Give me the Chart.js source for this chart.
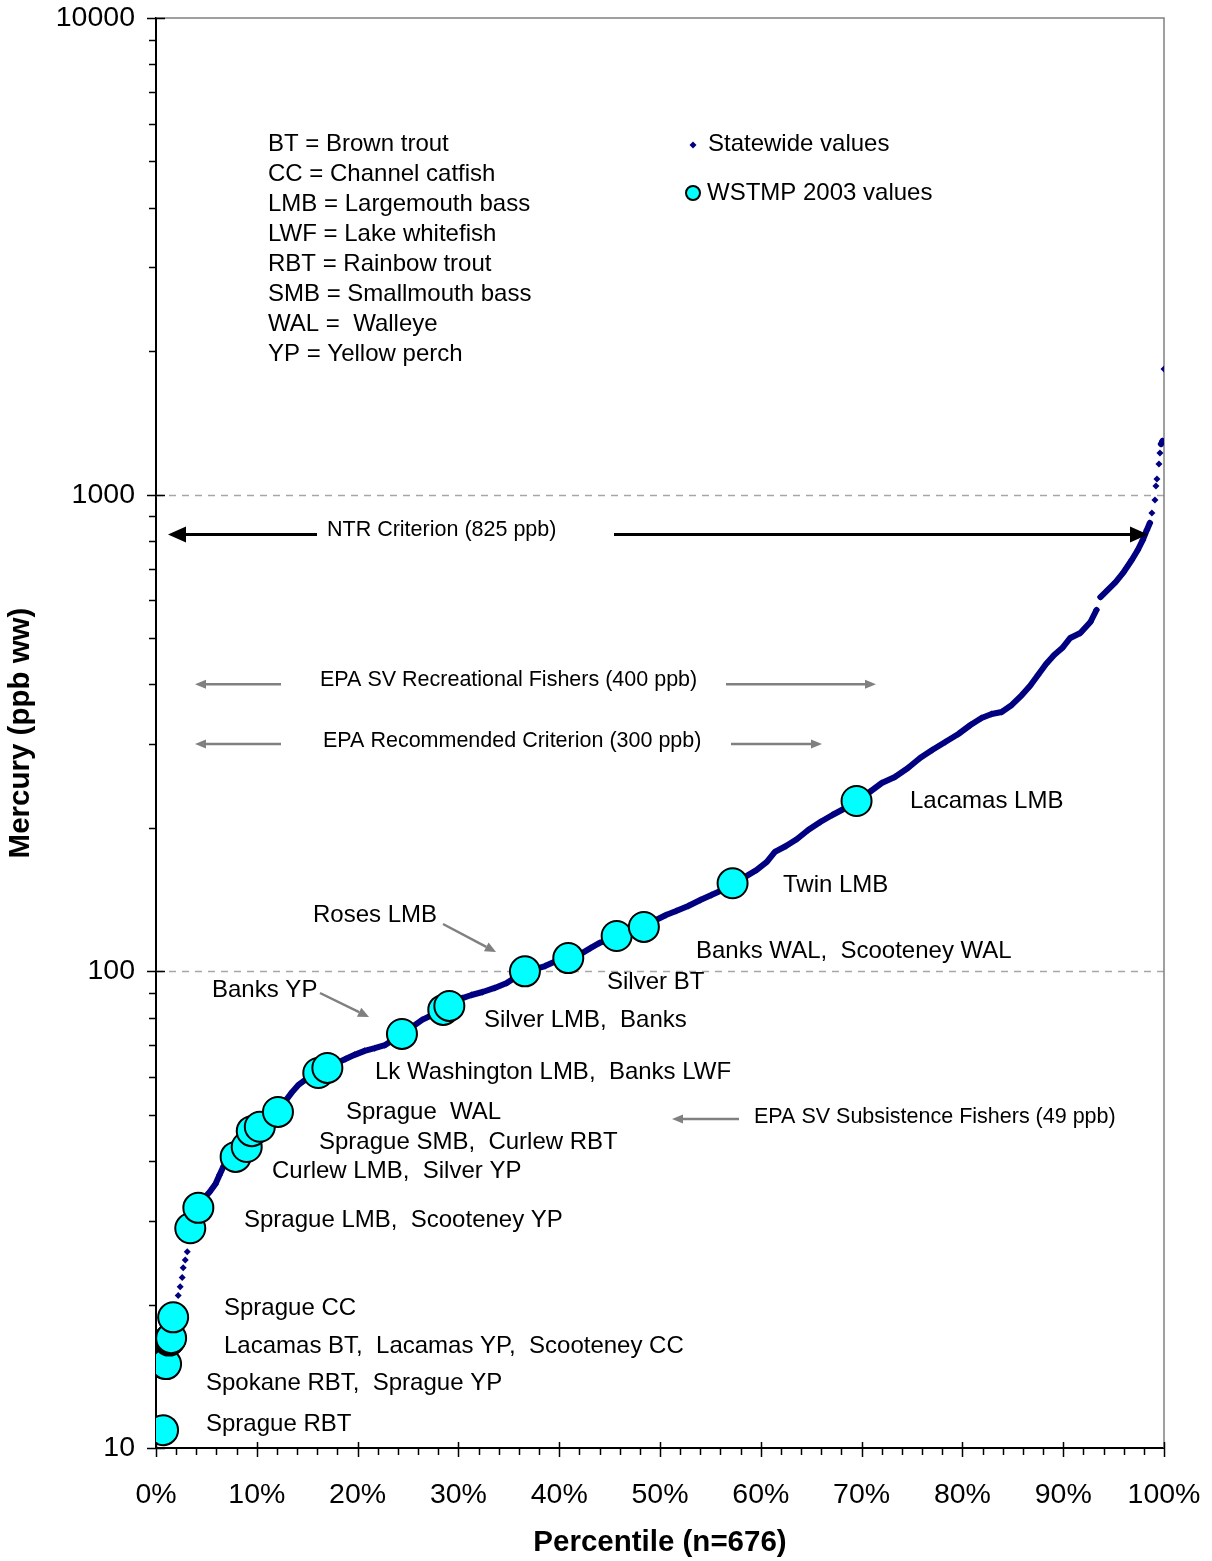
<!DOCTYPE html>
<html>
<head>
<meta charset="utf-8">
<title>Mercury in fish tissue</title>
<script src="https://cdn.jsdelivr.net/npm/chart.js@4.4.0/dist/chart.umd.min.js"></script>
<style>
  html, body { margin: 0; padding: 0; background: #fff; }
  #wrap { width: 1212px; height: 1561px; }
</style>
</head>
<body>
<div id="wrap"><canvas id="hgChart" width="1212" height="1561"></canvas></div>
<script>
// --- Statewide fish tissue mercury: percentile rank vs ppb (ww) ---
const statewidePct = [
    0.15, 0.4, 0.8, 1.1, 1.3, 1.5, 1.9, 2.2,
    2.4, 2.6, 2.7, 2.9, 3.1, 3.3, 3.5, 3.9, 4.3, 4.8,
    5.3, 5.9, 6.3, 6.7, 7.3, 7.9, 8.5, 9.1, 9.7, 10.3,
    11.0, 11.7, 12.3, 12.9, 13.5, 14.1, 14.8, 15.5, 16.3, 17.1,
    17.9, 18.8, 19.7, 20.7, 21.7, 22.7, 23.5, 24.4, 25.4, 26.4,
    27.4, 28.5, 29.4, 30.4, 31.3, 32.4, 33.6, 34.8, 35.7, 36.6,
    37.6, 38.6, 39.7, 40.9, 42.1, 43.1, 44.0, 45.0, 46.0, 47.2,
    48.4, 49.6, 50.6, 51.6, 52.8, 54.0, 55.1, 56.2, 57.2, 58.4,
    59.6, 60.6, 61.4, 62.5, 63.6, 64.7, 65.9, 67.1, 68.4, 69.5,
    70.8, 72.0, 73.3, 74.6, 75.8, 77.0, 78.3, 79.6, 80.8, 81.9,
    82.9, 83.9, 84.9, 85.9, 86.7, 87.5, 88.3, 89.1, 89.9, 90.7,
    91.7, 92.7, 93.3, 93.7, 94.4, 95.2, 96.0, 96.8, 97.4, 97.9,
    98.3, 98.6, 98.8, 99.1, 99.2, 99.3, 99.5, 99.6, 99.7, 99.85,
    100
];
const statewideHg = [
    10.4, 10.7, 14.4, 16.8, 17.7, 18.7, 19.9, 20.9,
    21.8, 22.8, 23.9, 24.8, 25.8, 27.6, 29.1, 30.8, 32.3, 33.5,
    34.4, 35.8, 37.4, 39.0, 40.2, 41.0, 42.2, 43.6, 45.8, 47.4,
    48.8, 50.2, 51.7, 53.7, 55.8, 57.7, 59.2, 60.3, 61.8, 63.0,
    64.2, 65.5, 66.8, 68.1, 69.0, 70.0, 71.8, 73.9, 76.4, 79.1,
    81.0, 83.4, 85.8, 87.9, 89.2, 90.5, 92.3, 94.5, 97.3, 99.7,
    101.1, 102.6, 105.1, 106.7, 108.7, 111.9, 114.7, 116.9, 119.2, 122.1,
    124.5, 128.1, 131.3, 133.8, 137.1, 141.1, 144.6, 148.1, 152.5, 157.7,
    163.2, 169.6, 178.0, 183.2, 189.5, 197.9, 205.7, 212.8, 220.1, 227.7,
    237.8, 248.4, 255.7, 267.1, 280.3, 291.3, 302.8, 314.7, 328.7, 340.1,
    346.7, 350.1, 362.1, 379.9, 396.8, 418.4, 441.2, 460.8, 476.7, 500.4,
    512.6, 540.6, 572.8, 609.9, 630.8, 655.7, 688.2, 729.3, 765.5, 803.5,
    843.3, 872.3, 915.5, 974.4, 1043, 1078, 1159, 1223, 1277, 1296,
    1835
];

// --- WSTMP 2003 samples ---
const wstmpPct = [
    0.7, 0.9, 1.0, 1.3, 1.4, 1.5, 1.7, 3.4, 4.2, 7.9,
    9.0, 9.5, 10.3, 12.1, 16.1, 17.0, 24.4, 28.5, 29.1, 36.6,
    40.9, 45.7, 48.4, 57.2, 69.5
];
const wstmpHg = [
    10.9, 15.0, 15.0, 16.8, 16.9, 17.0, 18.8, 28.9, 31.9, 40.8,
    42.8, 46.2, 47.2, 50.7, 61.2, 62.7, 73.9, 83.0, 84.6, 100,
    106.6, 118.6, 123.9, 153, 227.7
];

const xTickValues = [0, 10, 20, 30, 40, 50, 60, 70, 80, 90, 100];
const yTickValues = [10, 100, 1000, 10000];
const yGridValues = [100, 1000];

// criteria shown as arrows (ppb)
const ntrCriterion = 825;
const epaRecreational = 400;
const epaRecommended = 300;
const epaSubsistence = 49;

const abbreviations = [
    'BT = Brown trout',
    'CC = Channel catfish',
    'LMB = Largemouth bass',
    'LWF = Lake whitefish',
    'RBT = Rainbow trout',
    'SMB = Smallmouth bass',
    'WAL =  Walleye',
    'YP = Yellow perch'
];

// sample labels (canvas px, left edge / middle)
const sampleLabels = [
    { text: 'Lacamas LMB', x: 910, y: 801 },
    { text: 'Twin LMB', x: 783, y: 885 },
    { text: 'Banks WAL,  Scooteney WAL', x: 696, y: 951 },
    { text: 'Silver BT', x: 607, y: 982 },
    { text: 'Roses LMB', x: 313, y: 915 },
    { text: 'Banks YP', x: 212, y: 990 },
    { text: 'Silver LMB,  Banks', x: 484, y: 1020 },
    { text: 'Lk Washington LMB,  Banks LWF', x: 375, y: 1072 },
    { text: 'Sprague  WAL', x: 346, y: 1112 },
    { text: 'Sprague SMB,  Curlew RBT', x: 319, y: 1142 },
    { text: 'Curlew LMB,  Silver YP', x: 272, y: 1171 },
    { text: 'Sprague LMB,  Scooteney YP', x: 244, y: 1220 },
    { text: 'Sprague CC', x: 224, y: 1308 },
    { text: 'Lacamas BT,  Lacamas YP,  Scooteney CC', x: 224, y: 1346 },
    { text: 'Spokane RBT,  Sprague YP', x: 206, y: 1383 },
    { text: 'Sprague RBT', x: 206, y: 1424 }
];

const NAVY = '#000080';
const CYAN = '#00FFFF';
const GREY = '#808080';
const FONT = '"Liberation Sans", Arial, Helvetica, sans-serif';

Chart.defaults.font.family = FONT;
Chart.defaults.color = '#000';

function drawArrow(ctx, x1, y1, x2, y2, color, width, headLen, headHalf) {
    const ang = Math.atan2(y2 - y1, x2 - x1);
    const bx = x2 - Math.cos(ang) * headLen;
    const by = y2 - Math.sin(ang) * headLen;
    ctx.save();
    ctx.strokeStyle = color;
    ctx.fillStyle = color;
    ctx.lineWidth = width;
    ctx.beginPath();
    ctx.moveTo(x1, y1);
    ctx.lineTo(bx, by);
    ctx.stroke();
    ctx.beginPath();
    ctx.moveTo(x2, y2);
    ctx.lineTo(bx - Math.sin(ang) * headHalf, by + Math.cos(ang) * headHalf);
    ctx.lineTo(bx + Math.sin(ang) * headHalf, by - Math.cos(ang) * headHalf);
    ctx.closePath();
    ctx.fill();
    ctx.restore();
}

function drawDiamond(ctx, x, y, r) {
    ctx.beginPath();
    ctx.moveTo(x, y - r);
    ctx.lineTo(x + r, y);
    ctx.lineTo(x, y + r);
    ctx.lineTo(x - r, y);
    ctx.closePath();
    ctx.fill();
}

// grid lines and frame behind the data
const backdrop = {
    id: 'backdrop',
    beforeDatasetsDraw(chart) {
        const { ctx, chartArea: a, scales: { y } } = chart;
        ctx.save();
        ctx.strokeStyle = '#a6a6a6';
        ctx.lineWidth = 1.3;
        ctx.setLineDash([7, 6]);
        yGridValues.forEach(v => {
            const py = Math.round(y.getPixelForValue(v)) + 0.5;
            ctx.beginPath();
            ctx.moveTo(a.left, py);
            ctx.lineTo(a.right, py);
            ctx.stroke();
        });
        ctx.setLineDash([]);
        ctx.strokeStyle = GREY;
        ctx.lineWidth = 1.5;
        ctx.beginPath();
        ctx.moveTo(a.left, a.top);
        ctx.lineTo(a.right, a.top);
        ctx.lineTo(a.right, a.bottom);
        ctx.stroke();
        ctx.restore();
    }
};

// ticks, legend, criteria arrows and labels
const overlay = {
    id: 'overlay',
    afterDraw(chart) {
        const { ctx, chartArea: a, scales: { x, y } } = chart;
        ctx.save();

        // axis ticks
        ctx.strokeStyle = '#000';
        ctx.lineWidth = 1.5;
        ctx.beginPath();
        for (let v = 0; v <= 100; v += 2) {
            const px = Math.round(x.getPixelForValue(v)) + 0.5;
            const major = v % 10 === 0;
            ctx.moveTo(px, major ? a.bottom - 6 : a.bottom);
            ctx.lineTo(px, a.bottom + (major ? 9 : 7));
        }
        for (let d = 10; d <= 10000; d *= 10) {
            for (let m = 1; m <= 9; m++) {
                const v = d * m;
                if (v > 10000) break;
                const py = Math.round(y.getPixelForValue(v)) + 0.5;
                if (m === 1) {
                    ctx.moveTo(a.left - 9, py);
                    ctx.lineTo(a.left + 9, py);
                } else {
                    ctx.moveTo(a.left - 7, py);
                    ctx.lineTo(a.left, py);
                }
            }
        }
        ctx.stroke();

        ctx.fillStyle = '#000';
        ctx.textBaseline = 'middle';
        ctx.textAlign = 'left';

        // abbreviation key
        ctx.font = '24px ' + FONT;
        abbreviations.forEach((t, i) => ctx.fillText(t, 268, 144 + i * 30.1));

        // legend
        ctx.fillStyle = NAVY;
        drawDiamond(ctx, 693, 145, 3.5);
        ctx.beginPath();
        ctx.arc(693, 193, 7, 0, Math.PI * 2);
        ctx.fillStyle = CYAN;
        ctx.fill();
        ctx.lineWidth = 2;
        ctx.strokeStyle = '#000';
        ctx.stroke();
        ctx.fillStyle = '#000';
        ctx.fillText('Statewide values', 708, 144);
        ctx.fillText('WSTMP 2003 values', 707, 193);

        // sample labels
        sampleLabels.forEach(l => ctx.fillText(l.text, l.x, l.y));
        drawArrow(ctx, 443, 924, 496, 952, GREY, 2.5, 11, 5);
        drawArrow(ctx, 320, 993, 369, 1017, GREY, 2.5, 11, 5);

        // criteria
        ctx.font = '21.5px ' + FONT;
        const yNtr = y.getPixelForValue(ntrCriterion);
        drawArrow(ctx, 317, yNtr, 168, yNtr, '#000', 3, 18, 8);
        drawArrow(ctx, 614, yNtr, 1148, yNtr, '#000', 3, 18, 8);
        ctx.fillText('NTR Criterion (825 ppb)', 327, yNtr - 4);

        const yRec = y.getPixelForValue(epaRecreational);
        drawArrow(ctx, 281, yRec, 195, yRec, GREY, 2.5, 11, 4.5);
        drawArrow(ctx, 726, yRec, 876, yRec, GREY, 2.5, 11, 4.5);
        ctx.fillText('EPA SV Recreational Fishers (400 ppb)', 320, yRec - 4);

        const yRc = y.getPixelForValue(epaRecommended);
        drawArrow(ctx, 281, yRc, 195, yRc, GREY, 2.5, 11, 4.5);
        drawArrow(ctx, 731, yRc, 822, yRc, GREY, 2.5, 11, 4.5);
        ctx.fillText('EPA Recommended Criterion (300 ppb)', 323, yRc - 3);

        const ySub = y.getPixelForValue(epaSubsistence);
        drawArrow(ctx, 739, ySub, 672, ySub, GREY, 2.5, 11, 4.5);
        ctx.fillText('EPA SV Subsistence Fishers (49 ppb)', 754, ySub - 2);

        ctx.restore();
    }
};

const statewidePoints = statewidePct.map((p, i) => ({ x: p, y: statewideHg[i] }));
const wstmpPoints = wstmpPct.map((p, i) => ({ x: p, y: wstmpHg[i] }));

new Chart(document.getElementById('hgChart'), {
    type: 'scatter',
    data: {
        datasets: [
            {
                label: 'WSTMP 2003 values',
                data: wstmpPoints,
                pointRadius: 15,
                pointBackgroundColor: CYAN,
                pointBorderColor: '#000',
                pointBorderWidth: 2,
                order: 0
            },
            {
                label: 'Statewide values',
                data: statewidePoints,
                showLine: true,
                borderColor: NAVY,
                borderWidth: 6,
                borderCapStyle: 'round',
                borderJoinStyle: 'round',
                pointStyle: 'rectRot',
                pointRadius: 3.5,
                pointBackgroundColor: NAVY,
                pointBorderWidth: 0,
                // steep jumps in the tails are left as separate dots
                segment: {
                    borderColor: c => {
                        const dx = Math.abs(c.p1.x - c.p0.x);
                        const dy = Math.abs(c.p1.y - c.p0.y);
                        return (dy > 6 && dy > 2.5 * dx) ? 'rgba(0,0,0,0)' : NAVY;
                    }
                },
                order: 1
            }
        ]
    },
    options: {
        responsive: false,
        animation: false,
        devicePixelRatio: 1,
        layout: { padding: 0 },
        plugins: {
            legend: { display: false },
            tooltip: { enabled: false }
        },
        scales: {
            x: {
                type: 'linear',
                min: 0,
                max: 100,
                afterBuildTicks: s => { s.ticks = xTickValues.map(v => ({ value: v })); },
                afterFit: s => {
                    s.height = 113;
                    s.paddingLeft = 0;
                    s.paddingRight = 48;
                },
                ticks: {
                    autoSkip: false,
                    maxRotation: 0,
                    padding: 30,
                    color: '#000',
                    font: { size: 28.5 },
                    callback: v => v + '%'
                },
                grid: { display: false, drawTicks: false },
                border: { display: true, color: '#000', width: 2 },
                title: {
                    display: true,
                    text: 'Percentile (n=676)',
                    color: '#000',
                    font: { size: 29.5, weight: 'bold' },
                    padding: { top: 0, bottom: 0 }
                }
            },
            y: {
                type: 'logarithmic',
                min: 10,
                max: 10000,
                afterBuildTicks: s => { s.ticks = yTickValues.map(v => ({ value: v, major: true })); },
                afterFit: s => {
                    s.width = 156;
                    s.paddingTop = 18;
                    s.paddingBottom = 0;
                },
                ticks: {
                    autoSkip: false,
                    padding: 21,
                    color: '#000',
                    font: { size: 28.5 },
                    callback: v => String(v)
                },
                grid: { display: false, drawTicks: false },
                border: { display: true, color: '#000', width: 2 },
                title: {
                    display: true,
                    text: 'Mercury (ppb ww)',
                    color: '#000',
                    font: { size: 29.5, weight: 'bold' },
                    padding: { top: 3, bottom: 0 }
                }
            }
        }
    },
    plugins: [backdrop, overlay]
});
</script>
</body>
</html>
